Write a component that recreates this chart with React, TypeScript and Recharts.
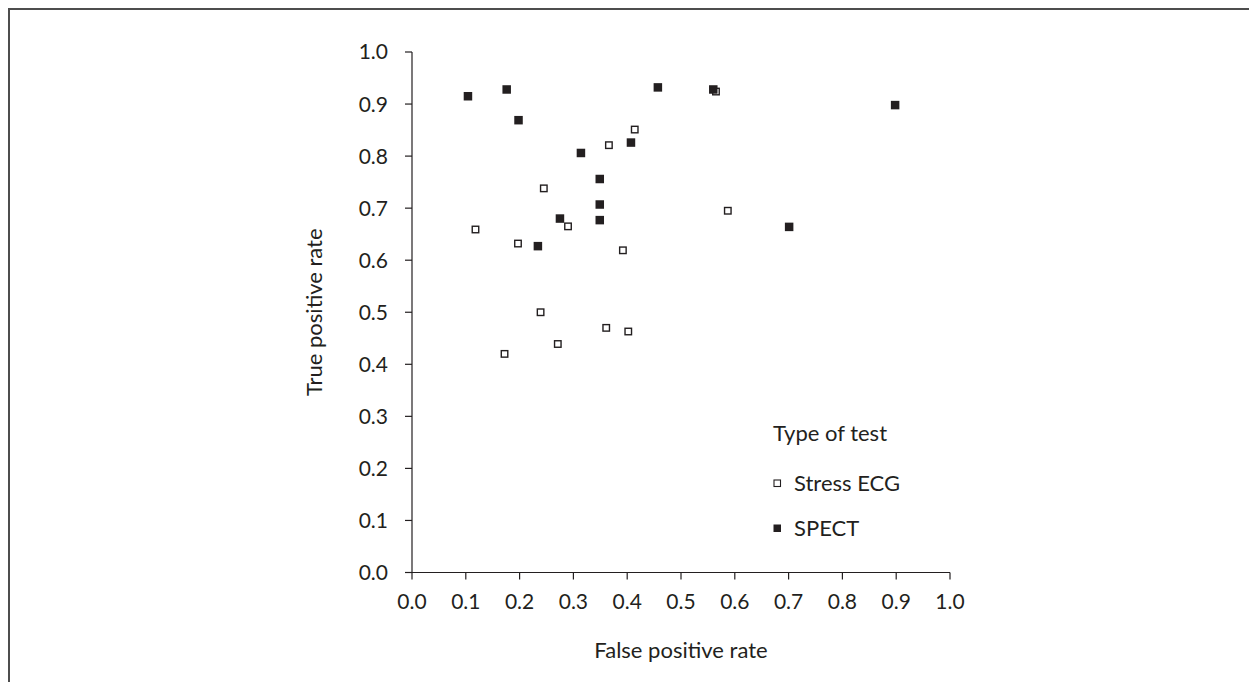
import React from "react";
import {
  ScatterChart,
  Scatter,
  XAxis,
  YAxis,
  Label,
  Legend,
} from "recharts";

// false positive rate / true positive rate per study
const ecgFpr = [0.414, 0.366, 0.245, 0.29, 0.118, 0.197, 0.392, 0.565, 0.587, 0.239, 0.361, 0.402, 0.271, 0.172];
const ecgTpr = [0.851, 0.821, 0.738, 0.665, 0.659, 0.632, 0.619, 0.924, 0.695, 0.5, 0.47, 0.463, 0.439, 0.42];

const spectFpr = [0.104, 0.176, 0.457, 0.198, 0.407, 0.314, 0.349, 0.349, 0.275, 0.349, 0.234, 0.56, 0.898, 0.701];
const spectTpr = [0.915, 0.928, 0.932, 0.869, 0.826, 0.806, 0.756, 0.707, 0.68, 0.677, 0.627, 0.928, 0.898, 0.664];

const ticks = [0, 0.1, 0.2, 0.3, 0.4, 0.5, 0.6, 0.7, 0.8, 0.9, 1.0];
const legendOrder = ["Stress ECG", "SPECT"];

const ecgData = ecgFpr.map((x, i) => ({ x, y: ecgTpr[i] }));
const spectData = spectFpr.map((x, i) => ({ x, y: spectTpr[i] }));

const W = 1249;
const H = 674;
const INK = "#231f20";
const FONT = "Lato, 'Open Sans', sans-serif";

const OpenSquare = (props: any) => {
  const { cx, cy } = props;
  return <rect x={cx - 3.25} y={cy - 3.25} width={6.5} height={6.5} fill="#fff" stroke={INK} strokeWidth={1.4} />;
};

const FilledSquare = (props: any) => {
  const { cx, cy } = props;
  return <rect x={cx - 4.25} y={cy - 4.25} width={8.5} height={8.5} fill={INK} />;
};

const renderLegend = (props: any) => {
  const items = [...(props.payload || [])].sort(
    (a: any, b: any) => legendOrder.indexOf(a.value) - legendOrder.indexOf(b.value)
  );
  return (
    <div style={{ fontFamily: FONT, fontSize: 22, color: INK, lineHeight: "26px" }}>
      <div style={{ marginBottom: 14.5 }}>Type of test</div>
      {items.map((entry: any) => (
        <div key={entry.value} style={{ display: "flex", alignItems: "center", height: 45 }}>
          <svg width={21} height={12}>
            {entry.value === "SPECT" ? (
              <rect x={0.5} y={2.5} width={7.5} height={7.5} fill={INK} />
            ) : (
              <rect x={1} y={3} width={6.5} height={6.5} fill="#fff" stroke={INK} strokeWidth={1.1} />
            )}
          </svg>
          <span>{entry.value}</span>
        </div>
      ))}
    </div>
  );
};

export default function App() {
  return (
    <div style={{ position: "relative", width: W, height: H }}>
      <div
        style={{
          position: "absolute",
          left: 0,
          top: 0,
          width: W,
          height: 682,
          boxSizing: "border-box",
          borderTop: "2px solid #4d4d4d",
          borderLeft: "2px solid #4d4d4d",
          pointerEvents: "none",
        }}
      />
      <ScatterChart
        width={W}
        height={H}
        margin={{ top: 44, right: 307, bottom: 19.5, left: 304 }}
      >
        <XAxis
          type="number"
          dataKey="x"
          domain={[0, 1]}
          ticks={ticks}
          tickFormatter={(v: number) => v.toFixed(1)}
          height={90}
          tickSize={7}
          tickMargin={15}
          stroke={INK}
          strokeWidth={1.2}
          tick={{ fill: INK, fontSize: 21, fontFamily: FONT }}
        >
          <Label
            value="False positive rate"
            position="insideBottom"
            offset={5}
            style={{ fill: INK, fontSize: 22, fontFamily: FONT }}
          />
        </XAxis>
        <YAxis
          type="number"
          dataKey="y"
          domain={[0, 1]}
          ticks={ticks}
          tickFormatter={(v: number) => v.toFixed(1)}
          width={100}
          tickSize={7}
          tickMargin={17}
          stroke={INK}
          strokeWidth={1.2}
          tick={{ fill: INK, fontSize: 21, fontFamily: FONT }}
        >
          <Label
            value="True positive rate"
            angle={-90}
            position="insideLeft"
            offset={2}
            style={{ fill: INK, fontSize: 22, fontFamily: FONT, textAnchor: "middle" }}
          />
        </YAxis>
        <Legend
          layout="horizontal"
          verticalAlign="middle"
          align="center"
          content={renderLegend}
          wrapperStyle={{ position: "absolute", left: 765, top: 412, width: 220 }}
        />
        <Scatter name="Stress ECG" data={ecgData} shape={OpenSquare} isAnimationActive={false} />
        <Scatter name="SPECT" data={spectData} shape={FilledSquare} isAnimationActive={false} />
      </ScatterChart>
    </div>
  );
}
